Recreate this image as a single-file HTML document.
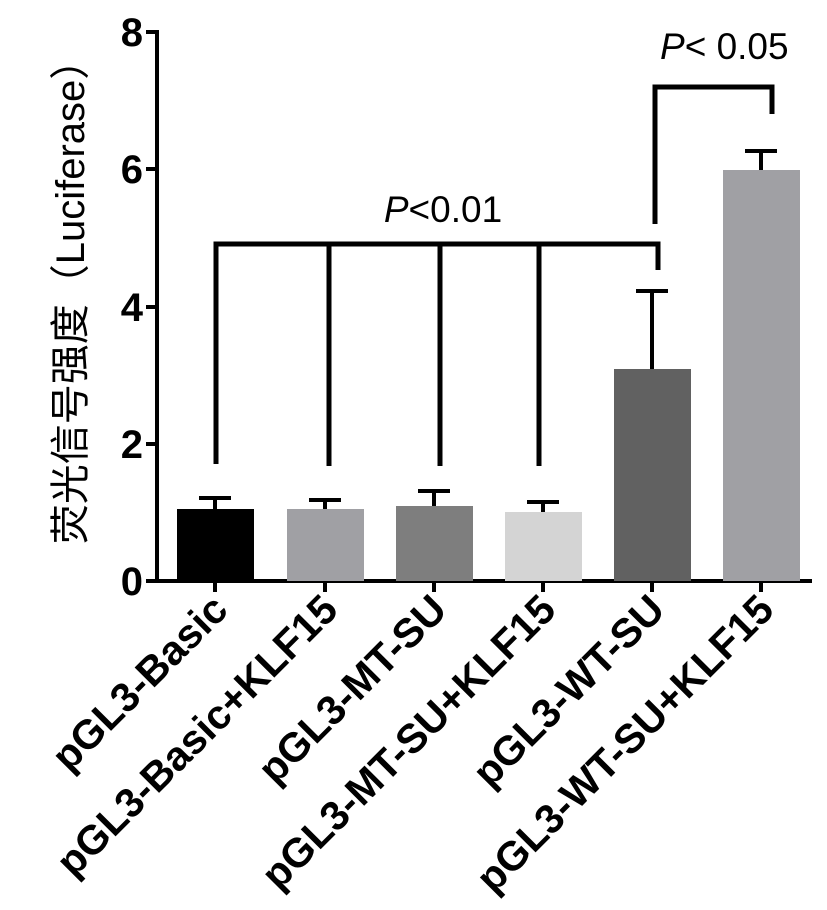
<!DOCTYPE html>
<html><head><meta charset="utf-8"><style>
body{margin:0;background:#fff}
svg text{font-family:"Liberation Sans","Noto Sans CJK SC",sans-serif}
</style></head><body>
<svg width="827" height="905" viewBox="0 0 827 905" xmlns="http://www.w3.org/2000/svg">
<g stroke="#000" stroke-width="4" fill="none">
<line x1="157" y1="30" x2="157" y2="583"/>
<line x1="155" y1="581" x2="812" y2="581"/>
<line x1="146" y1="32" x2="157" y2="32"/>
<line x1="146" y1="169" x2="157" y2="169"/>
<line x1="146" y1="307" x2="157" y2="307"/>
<line x1="146" y1="444" x2="157" y2="444"/>
<line x1="146" y1="581" x2="157" y2="581"/>
<line x1="215" y1="581" x2="215" y2="592"/>
<line x1="325" y1="581" x2="325" y2="592"/>
<line x1="434" y1="581" x2="434" y2="592"/>
<line x1="543" y1="581" x2="543" y2="592"/>
<line x1="652" y1="581" x2="652" y2="592"/>
<line x1="761" y1="581" x2="761" y2="592"/>
</g>
<g font-weight="bold" font-size="40" text-anchor="end">
<text x="143" y="46">8</text><text x="143" y="183">6</text><text x="143" y="321">4</text><text x="143" y="458">2</text><text x="143" y="595">0</text>
</g>
<rect x="177" y="509" width="77" height="72" fill="#000"/>
<rect x="287" y="509" width="77" height="72" fill="#a0a0a4"/>
<rect x="396" y="506" width="77" height="75" fill="#7e7e7e"/>
<rect x="505" y="512" width="77" height="69" fill="#d4d4d4"/>
<rect x="614" y="369" width="77" height="212" fill="#616161"/>
<rect x="723" y="170" width="77" height="411" fill="#a0a0a4"/>
<g stroke="#000" stroke-width="4">
<line x1="215" y1="509" x2="215" y2="498"/><line x1="199" y1="498" x2="231" y2="498"/>
<line x1="325" y1="509" x2="325" y2="500"/><line x1="309" y1="500" x2="341" y2="500"/>
<line x1="434" y1="506" x2="434" y2="491"/><line x1="418" y1="491" x2="450" y2="491"/>
<line x1="543" y1="512" x2="543" y2="502"/><line x1="527" y1="502" x2="559" y2="502"/>
<line x1="652" y1="369" x2="652" y2="291"/><line x1="636" y1="291" x2="668" y2="291"/>
<line x1="761" y1="170" x2="761" y2="151"/><line x1="745" y1="151" x2="777" y2="151"/>
</g>
<g stroke="#000" stroke-width="5" fill="none">
<polyline points="216,464 216,244 658,244 658,270"/>
<line x1="329" y1="244" x2="329" y2="466"/>
<line x1="440" y1="244" x2="440" y2="466"/>
<line x1="539" y1="244" x2="539" y2="466"/>
<polyline points="655,224 655,87 772,87 772,114"/>
</g>
<text x="443" y="222" font-size="37" text-anchor="middle"><tspan font-style="italic">P</tspan>&lt;0.01</text>
<text x="660" y="59" font-size="37"><tspan font-style="italic">P</tspan>&lt; 0.05</text>
<text transform="translate(84,292) rotate(-90)" font-size="40" text-anchor="middle">荧光信号强度（Luciferase）</text>
<g font-weight="bold" font-size="41" text-anchor="end">
<text transform="translate(230,612) rotate(-45)">pGL3-Basic</text>
<text transform="translate(340,612) rotate(-45)">pGL3-Basic+KLF15</text>
<text transform="translate(449,612) rotate(-45)">pGL3-MT-SU</text>
<text transform="translate(558,612) rotate(-45)">pGL3-MT-SU+KLF15</text>
<text transform="translate(667,612) rotate(-45)">pGL3-WT-SU</text>
<text transform="translate(776,612) rotate(-45)">pGL3-WT-SU+KLF15</text>
</g>
</svg>
</body></html>
